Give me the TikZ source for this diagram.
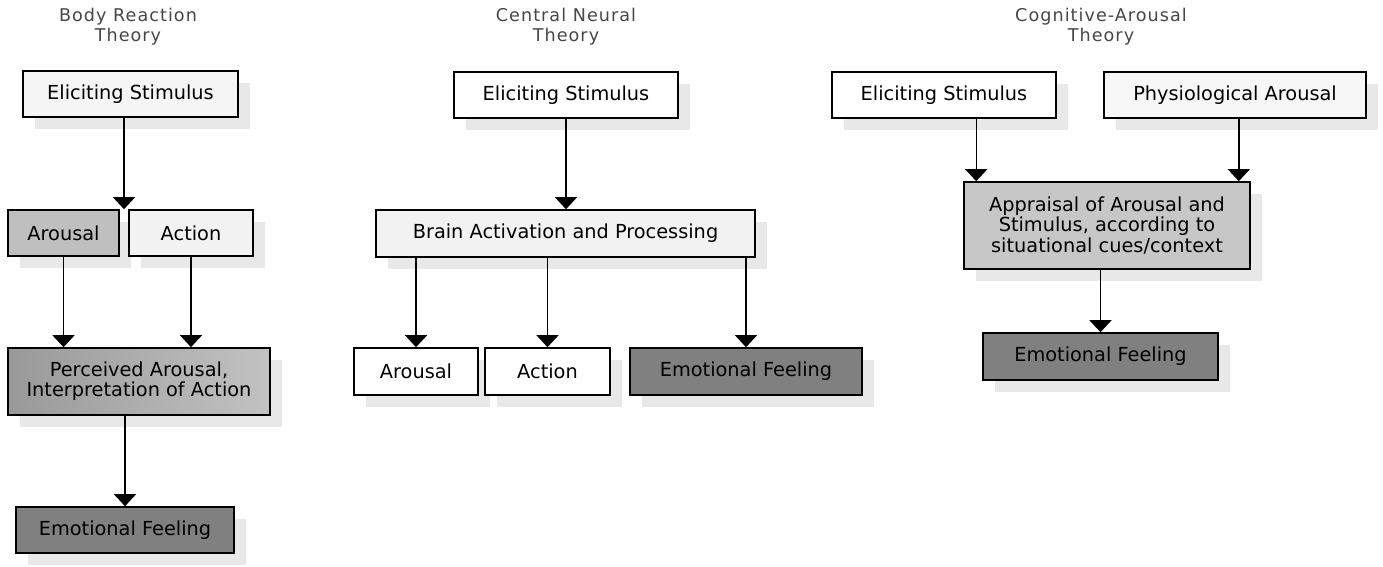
\documentclass[tikz,border=0pt]{standalone}
\usepackage{fontspec}
\newfontfamily\boxfont{DejaVu Sans}
\newfontfamily\titlefont[LetterSpace=6]{DejaVu Sans}
\usetikzlibrary{arrows.meta,calc,shadows}

\tikzset{
  box/.style={draw, line width=0.9pt, inner sep=0pt, align=center,
    font=\boxfont\fontsize{11}{11.5}\selectfont,
    drop shadow={shadow xshift=0.24cm, shadow yshift=-0.24cm, fill=black!9, opacity=1}},
  wh/.style 2 args={minimum width=#1*0.02cm, minimum height=#2*0.02cm},
  title/.style={align=center, text=black!72, font=\titlefont\fontsize{10}{11.3}\selectfont},
  arr/.style={-{Triangle[width=0.44cm,length=0.24cm]}, line width=0.8pt}
}

\begin{document}
\begin{tikzpicture}[x=0.02cm, y=-0.02cm]
  \useasboundingbox (0,0) rectangle (1383,567);
  % titles:
  \node [title] (t1) at (128,27) {Body Reaction\\Theory};
  \node [title] (t2) at (566,27) {Central Neural\\Theory};
  \node [title] (t3) at (1101,27) {Cognitive-Arousal\\Theory};
  % body reaction theory:
  \node [box, wh={215}{46}, fill=black!4] (es1) at (130.5,94) {Eliciting Stimulus};
  \node [box, wh={111}{46}, fill=black!25] (ar1) at (63.5,233) {Arousal};
  \node [box, wh={124}{46}, fill=black!5] (ac1) at (191,233) {Action};
  \node [box, wh={262}{67}, left color=black!40, right color=black!24] (pa1) at (139,381.5)
    {Perceived Arousal,\\Interpretation of Action};
  \node [box, wh={218}{46}, fill=black!50] (ef1) at (125,530) {Emotional Feeling};
  % central neural theory:
  \node [box, wh={224}{46}, fill=white] (es2) at (566,95) {Eliciting Stimulus};
  \node [box, wh={379}{47}, fill=black!5] (ba2) at (565.5,233.5) {Brain Activation and Processing};
  \node [box, wh={124}{47}, fill=white] (ar2) at (416,371.5) {Arousal};
  \node [box, wh={125}{47}, fill=white] (ac2) at (547.5,371.5) {Action};
  \node [box, wh={232}{47}, fill=black!50] (ef2) at (746,371.5) {Emotional Feeling};
  % cognitive-arousal theory:
  \node [box, wh={224}{46}, fill=white] (es3) at (944,95) {Eliciting Stimulus};
  \node [box, wh={262}{46}, fill=black!3] (ph3) at (1235,95) {Physiological Arousal};
  \node [box, wh={286}{87}, fill=black!22] (ap3) at (1107,225.5)
    {Appraisal of Arousal and\\Stimulus, according to\\situational cues/context};
  \node [box, wh={235}{47}, fill=black!50] (ef3) at (1100.5,356.5) {Emotional Feeling};
  % arrow ends that are not centred:
  \coordinate (g1) at ($(ar1.north east)!0.5!(ac1.north west)$);
  \coordinate (g3l) at ($(ap3.north west)+(13,0)$);
  \coordinate (g3r) at ($(ap3.north east)+(-12,0)$);
  % edges:
  \draw [arr] (es1.south -| g1) -- (g1);
  \draw [arr] (g3l |- es3.south) -- (g3l);
  \draw [arr] (g3r |- ph3.south) -- (g3r);
  \foreach \a/\b in {ar1/pa1, ac1/pa1, es2/ba2}
    \draw [arr] (\a.south) -- (\a.south |- \b.north);
  \foreach \a/\b in {pa1/ef1, ba2/ar2, ba2/ac2, ba2/ef2, ap3/ef3}
    \draw [arr] (\b.north |- \a.south) -- (\b.north);
\end{tikzpicture}
\end{document}
